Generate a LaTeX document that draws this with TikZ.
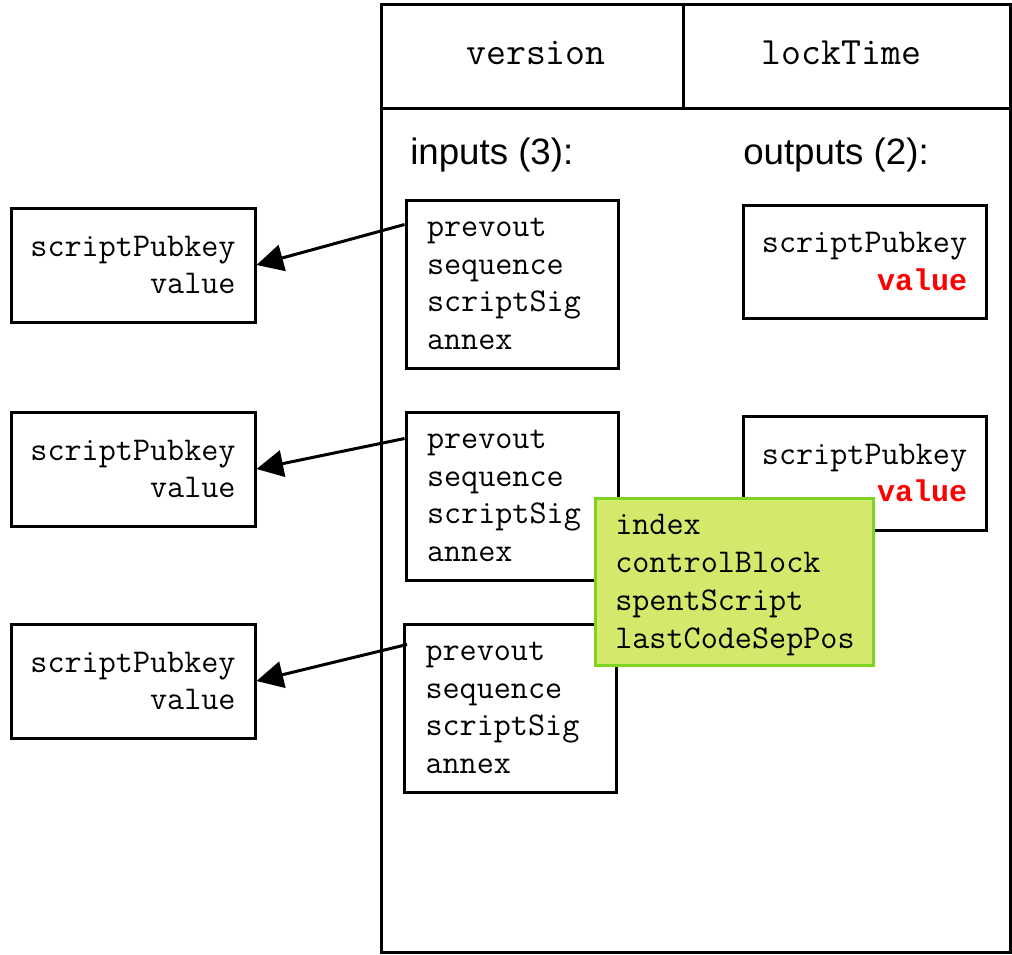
\documentclass[tikz,border=0pt]{standalone}
\usepackage{fontspec}
\usetikzlibrary{arrows.meta,calc}
\newfontfamily\sansfnt{Liberation Sans}
\newfontfamily\boldmono{Liberation Mono}
\definecolor{gfill}{HTML}{D4E96B}
\definecolor{gedge}{HTML}{7ED321}
\definecolor{vred}{HTML}{FF0000}
\newcommand{\redval}{\textcolor{vred}{\boldmono\bfseries\fontsize{22.5pt}{28.3pt}\selectfont value}}
\tikzset{
  box/.style={draw=black, line width=2.25pt, fill=white, inner sep=0pt},
  bodytxt/.style={font=\ttfamily\fontsize{24.9pt}{28.3pt}\selectfont},
  headtxt/.style={font=\ttfamily\fontsize{29pt}{30pt}\selectfont, inner sep=0pt},
  labtxt/.style={font=\sansfnt\fontsize{27.5pt}{33pt}\selectfont},
  inbox/.style={box, bodytxt, minimum width=212*0.75pt, minimum height=168*0.75pt,
    text width=170*0.75pt, align=left, inner xsep=21*0.75pt},
  keybox/.style={box, bodytxt, minimum width=244*0.75pt, minimum height=114*0.75pt, align=right},
  arr/.style={line width=2.25pt, -{Triangle[length=20pt,width=20pt]}}
}
\begin{document}
\begin{tikzpicture}[x=0.75pt,y=-0.75pt]
\useasboundingbox (0,0) rectangle (1012,954);
% main transaction box
\node[box, minimum width=629*0.75pt, minimum height=948*0.75pt] (tx) at (695.5,478) {};
\node[box, minimum width=302*0.75pt, minimum height=104*0.75pt] (ver) at (532,56) {};
\node[box, minimum width=327*0.75pt, minimum height=104*0.75pt] (lock) at (846.5,56) {};
\node[headtxt] (vertxt) at (536,53) {version};
\node[headtxt] (locktxt) at (841.5,53) {lockTime};
\node[labtxt, anchor=base west, inner sep=0pt] (inlab) at (410,164) {inputs (3):};
\node[labtxt, anchor=base west, inner sep=0pt] (outlab) at (743,164) {outputs (2):};
% inputs
\node[inbox] (in1) at (512,284) {prevout\\sequence\\scriptSig\\annex};
\node[inbox] (in2) at (512,496) {prevout\\sequence\\scriptSig\\annex};
\node[inbox] (in3) at (510.5,708) {prevout\\sequence\\scriptSig\\annex};
% spent outputs
\node[keybox] (sp1) at (133,265) {scriptPubkey\\value};
\node[keybox] (sp2) at (133,469) {scriptPubkey\\value};
\node[keybox] (sp3) at (133,681) {scriptPubkey\\value};
% outputs
\node[keybox, minimum width=243*0.75pt, minimum height=113*0.75pt] (out1) at (864.5,261.5) {scriptPubkey\\\redval};
\node[keybox, minimum width=243*0.75pt, minimum height=114*0.75pt] (out2) at (864.5,473) {scriptPubkey\\\redval};
% script path info
\node[box, draw=gedge, fill=gfill, minimum width=278*0.75pt, minimum height=167*0.75pt] (sp) at (734,581.5) {};
\node[bodytxt, anchor=west, align=left, inner sep=0pt] (sptxt) at (615,585)
  {index\\controlBlock\\spentScript\\lastCodeSepPos};
% arrows
\draw[arr] ($(in1.north west)+(0,26)$) -- (sp1.east);
\draw[arr] ($(in2.north west)+(0,28)$) -- (sp2.east);
\draw[arr] ($(in3.north west)+(4,22)$) -- (sp3.east);
\end{tikzpicture}
\end{document}
